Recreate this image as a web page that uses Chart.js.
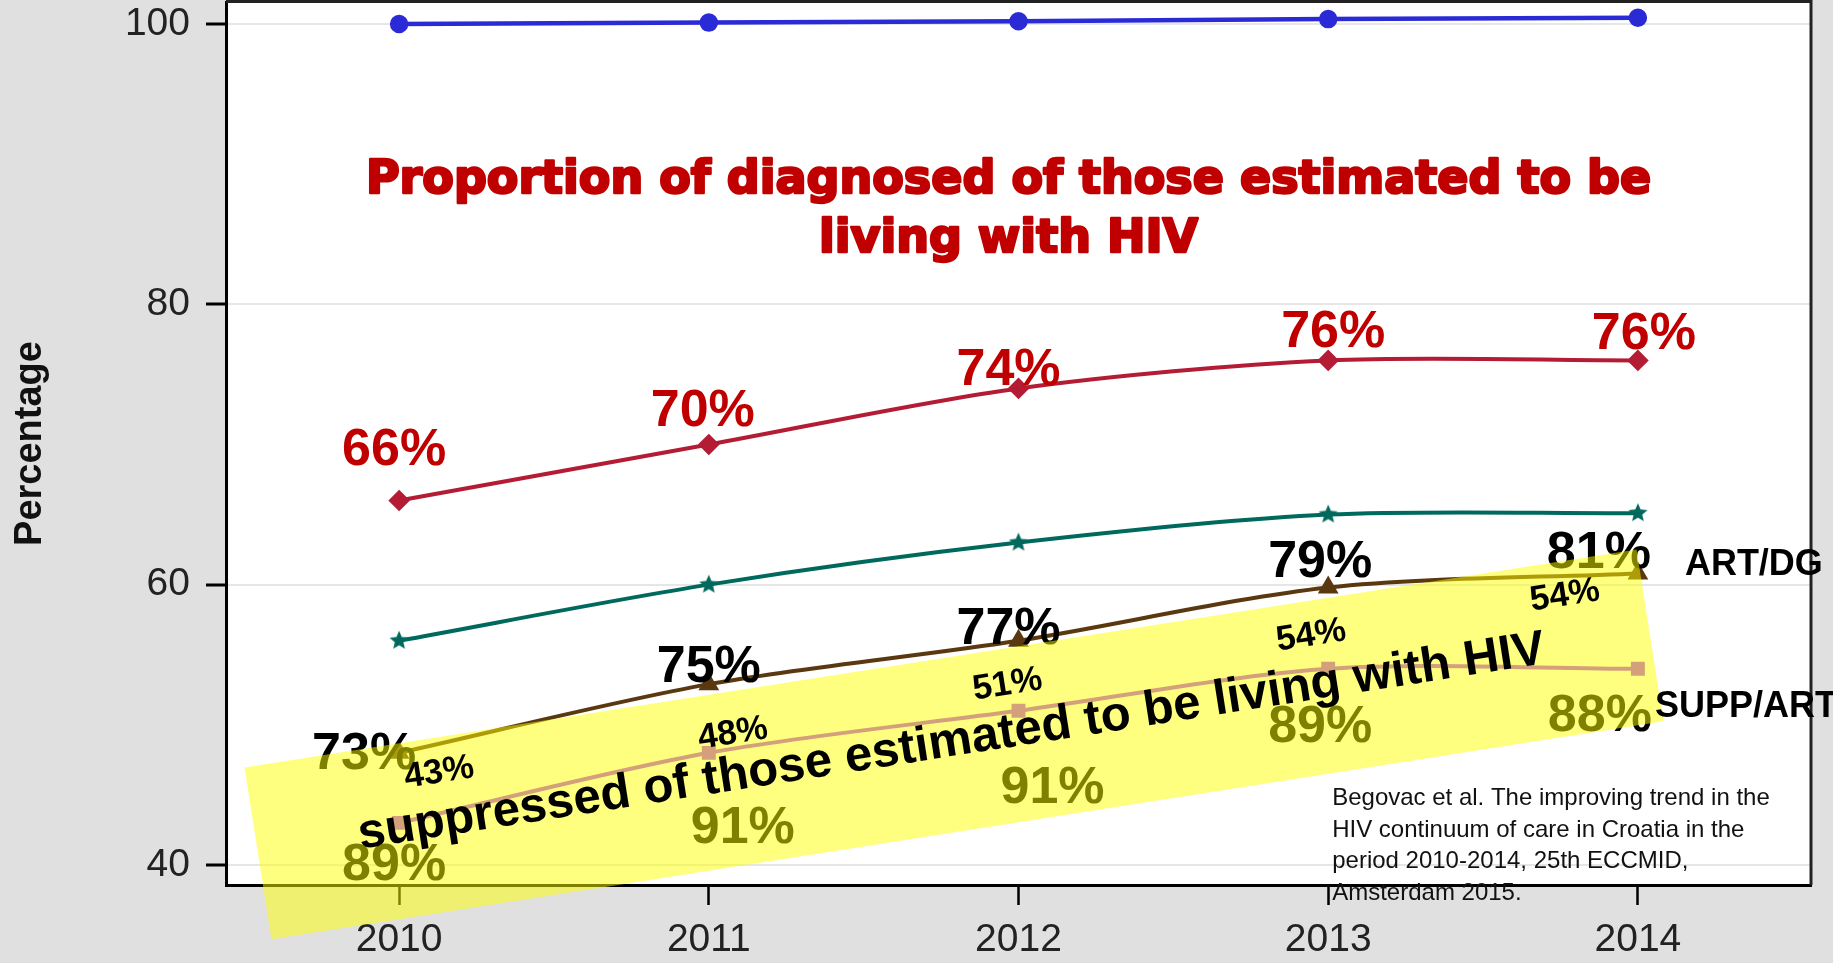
<!DOCTYPE html>
<html>
<head>
<meta charset="utf-8">
<script src="https://cdn.jsdelivr.net/npm/chart.js@4.4.1/dist/chart.umd.min.js"></script>
<style>
  html, body { margin: 0; padding: 0; background: #e0e0e0; overflow: hidden; }
  canvas { display: block; }
</style>
</head>
<body>
<canvas id="chart" width="1833" height="963"></canvas>
<script>
// values
var years = [2010, 2011, 2012, 2013, 2014];
var estimated = [100, 100.1, 100.2, 100.35, 100.45];
var diagnosed = [66, 70, 74, 76, 76];
var inCare = [56, 60, 63, 65, 65.1];
var onArt = [48, 52.9, 56, 59.8, 60.8];
var suppressed = [43, 48, 51, 54, 54];
var artOfDg = [73, 75, 77, 79, 81];
var suppOfArt = [89, 91, 91, 89, 88];
var yTicks = [40, 60, 80, 100];

var titleLines = ['Proportion of diagnosed of those estimated to be', 'living with HIV'];
var bandText = 'suppressed of those estimated to be living with HIV';
var citation = ['Begovac et al. The improving trend in the', 'HIV continuum of care in Croatia in the',
    'period 2010-2014, 25th ECCMID,', 'Amsterdam 2015.'];

// label placement, pixels from the point they belong to
var redOffsets = [[-5, -50], [-6, -33], [-10, -18], [5, -28], [6, -26]];
var artOffsets = [[-35, 2], [0, -16], [-10, -11], [-8, -25], [-39, -20]];
var suppOffsets = [[-5, 43], [34, 76], [34, 78], [-8, 59], [-38, 48]];
var smallOffsets = [[40, -50], [24, -19], [-11, -26], [-17, -33], [-73, -73]];

var ANGLE = -8.9 * Math.PI / 180;

function pts(arr) {
    return years.map(function (yr, i) { return {x: yr, y: arr[i]}; });
}

function makeStar(color, r) {
    var c = document.createElement('canvas');
    c.width = c.height = r * 2 + 2;
    var g = c.getContext('2d');
    g.fillStyle = color;
    g.beginPath();
    for (var i = 0; i < 10; i++) {
        var rad = i % 2 ? r * 0.45 : r;
        var a = -Math.PI / 2 + i * Math.PI / 5;
        g.lineTo(c.width / 2 + rad * Math.cos(a), c.height / 2 + rad * Math.sin(a));
    }
    g.closePath();
    g.fill();
    return c;
}

function drawLabels(ctx, xs, ys, series, texts, offsets, font, color, rot) {
    ctx.save();
    ctx.font = font;
    ctx.fillStyle = color;
    ctx.textAlign = 'center';
    ctx.textBaseline = 'middle';
    years.forEach(function (yr, i) {
        var px = xs.getPixelForValue(yr) + offsets[i][0];
        var py = ys.getPixelForValue(series[i]) + offsets[i][1];
        ctx.save();
        ctx.translate(px, py);
        ctx.rotate(rot || 0);
        ctx.fillText(texts[i] + '%', 0, 0);
        ctx.restore();
    });
    ctx.restore();
}

var overlay = {
    id: 'overlay',
    beforeDraw: function (chart) {
        var a = chart.chartArea, ctx = chart.ctx;
        ctx.save();
        ctx.fillStyle = '#e0e0e0';
        ctx.fillRect(0, 0, chart.width, chart.height);
        ctx.fillStyle = '#ffffff';
        ctx.fillRect(a.left, a.top, a.right - a.left, a.bottom - a.top);
        ctx.restore();
    },
    beforeDatasetsDraw: function (chart) {
        var a = chart.chartArea, ctx = chart.ctx;
        ctx.save();
        ctx.strokeStyle = '#222';
        ctx.lineWidth = 3;
        ctx.beginPath();
        ctx.moveTo(a.left, a.top - 0.5);
        ctx.lineTo(a.right, a.top - 0.5);
        ctx.lineTo(a.right, a.bottom);
        ctx.stroke();
        ctx.restore();
    },
    beforeDatasetDraw: function (chart, args) {
        if (args.index !== 4) return;
        var ctx = chart.ctx, xs = chart.scales.x, ys = chart.scales.y, a = chart.chartArea;
        ctx.save();
        ctx.textAlign = 'center';
        ctx.textBaseline = 'alphabetic';
        ctx.fillStyle = '#c00000';
        ctx.strokeStyle = '#c00000';
        ctx.lineWidth = 2.5;
        ctx.lineJoin = 'round';
        ctx.font = 'bold 46px "DejaVu Sans"';
        var tx = xs.getPixelForValue(2012) - 10;
        titleLines.forEach(function (line, i) {
            ctx.fillText(line, tx, a.top + 191 + i * 59);
            ctx.strokeText(line, tx, a.top + 191 + i * 59);
        });
        ctx.restore();

        drawLabels(ctx, xs, ys, diagnosed, diagnosed, redOffsets, 'bold 52px "Liberation Sans"', '#c00000');
        drawLabels(ctx, xs, ys, onArt, artOfDg, artOffsets, 'bold 52px "Liberation Sans"', '#000');
        drawLabels(ctx, xs, ys, suppressed, suppOfArt, suppOffsets, 'bold 52px "Liberation Sans"', '#000');

        // translucent yellow highlight
        ctx.save();
        ctx.translate(xs.getPixelForValue(2012) - 65, ys.getPixelForValue(48.6));
        ctx.rotate(ANGLE);
        ctx.fillStyle = 'rgba(255, 255, 0, 0.5)';
        ctx.fillRect(-704, -87, 1409, 174);
        ctx.restore();
    },
    afterDatasetsDraw: function (chart) {
        var ctx = chart.ctx, xs = chart.scales.x, ys = chart.scales.y, a = chart.chartArea;
        drawLabels(ctx, xs, ys, suppressed, suppressed, smallOffsets, 'bold 35px "Liberation Sans"', '#000', ANGLE);

        ctx.save();
        ctx.translate(xs.getPixelForValue(2012) - 67, ys.getPixelForValue(48.6) - 2);
        ctx.rotate(ANGLE);
        ctx.font = 'bold 49px "Liberation Sans"';
        ctx.fillStyle = '#000';
        ctx.textAlign = 'center';
        ctx.textBaseline = 'middle';
        ctx.fillText(bandText, 0, 0);
        ctx.restore();

        ctx.save();
        ctx.fillStyle = '#000';
        ctx.textAlign = 'left';
        ctx.textBaseline = 'alphabetic';
        ctx.font = 'bold 36px "Liberation Sans"';
        var lastX = xs.getPixelForValue(years[4]);
        ctx.fillText('ART/DG', lastX + 47, ys.getPixelForValue(onArt[4]) + 2);
        ctx.fillText('SUPP/ART', lastX + 17, ys.getPixelForValue(suppressed[4]) + 48);

        ctx.font = '24px "Liberation Sans"';
        ctx.fillStyle = '#111';
        var cx = xs.getPixelForValue(2013) + 4;
        citation.forEach(function (line, i) {
            ctx.fillText(line, cx, a.bottom - 80 + i * 31.7);
        });
        ctx.restore();
    }
};

var ctx = document.getElementById('chart').getContext('2d');
var myChart = new Chart(ctx, {
    type: 'line',
    data: {
        datasets: [{
            data: pts(estimated),
            borderColor: '#2a2ad6',
            backgroundColor: '#2a2ad6',
            borderWidth: 4.5,
            pointStyle: 'circle',
            pointRadius: 7,
            tension: 0,
            order: 5
        },
        {
            data: pts(diagnosed),
            borderColor: '#b41c35',
            backgroundColor: '#b41c35',
            borderWidth: 4,
            pointStyle: 'rectRot',
            pointRadius: 8,
            tension: 0.3,
            order: 4
        },
        {
            data: pts(inCare),
            borderColor: '#00695d',
            backgroundColor: '#00695d',
            borderWidth: 4,
            pointStyle: makeStar('#00695d', 10),
            pointRadius: 9,
            tension: 0.3,
            order: 3
        },
        {
            data: pts(onArt),
            borderColor: '#5a3810',
            backgroundColor: '#5a3810',
            borderWidth: 4,
            pointStyle: 'triangle',
            pointRadius: 8,
            tension: 0.3,
            order: 2
        },
        {
            data: pts(suppressed),
            borderColor: '#d4a07c',
            backgroundColor: '#d4a07c',
            borderWidth: 4,
            pointStyle: 'rect',
            pointRadius: 7,
            tension: 0.3,
            order: 1
        }]
    },
    options: {
        responsive: false,
        animation: false,
        devicePixelRatio: 1,
        events: [],
        layout: {autoPadding: false, padding: {top: 2, right: 22, left: 0, bottom: 0}},
        plugins: {legend: {display: false}, tooltip: {enabled: false}},
        scales: {
            x: {
                type: 'linear',
                min: 2009.441,
                max: 2014.559,
                afterBuildTicks: function (s) { s.ticks = years.map(function (v) { return {value: v}; }); },
                afterFit: function (s) { s.height = 78; s.paddingLeft = 0; s.paddingRight = 0; },
                grid: {drawOnChartArea: false, drawTicks: true, tickLength: 20, tickColor: '#000', tickWidth: 2.5},
                border: {display: true, color: '#000', width: 3},
                ticks: {
                    padding: 12, autoSkip: false, maxRotation: 0, color: '#222',
                    font: {family: 'Liberation Sans', size: 39},
                    callback: function (v) { return String(v); }
                }
            },
            y: {
                min: 38.57,
                max: 101.57,
                afterBuildTicks: function (s) { s.ticks = yTicks.map(function (v) { return {value: v}; }); },
                afterFit: function (s) { s.width = 226; s.paddingTop = 0; s.paddingBottom = 0; },
                grid: {color: '#e6e6e6', lineWidth: 2, tickColor: '#000', tickWidth: 3, tickLength: 20},
                border: {display: true, color: '#000', width: 3},
                ticks: {padding: 16, color: '#222', font: {family: 'Liberation Sans', size: 39}},
                title: {
                    display: true, text: 'Percentage', color: '#111',
                    font: {family: 'Liberation Sans', size: 38, weight: 'bold'},
                    padding: {top: 8, bottom: 0}
                }
            }
        }
    },
    plugins: [overlay]
});
</script>
</body>
</html>
